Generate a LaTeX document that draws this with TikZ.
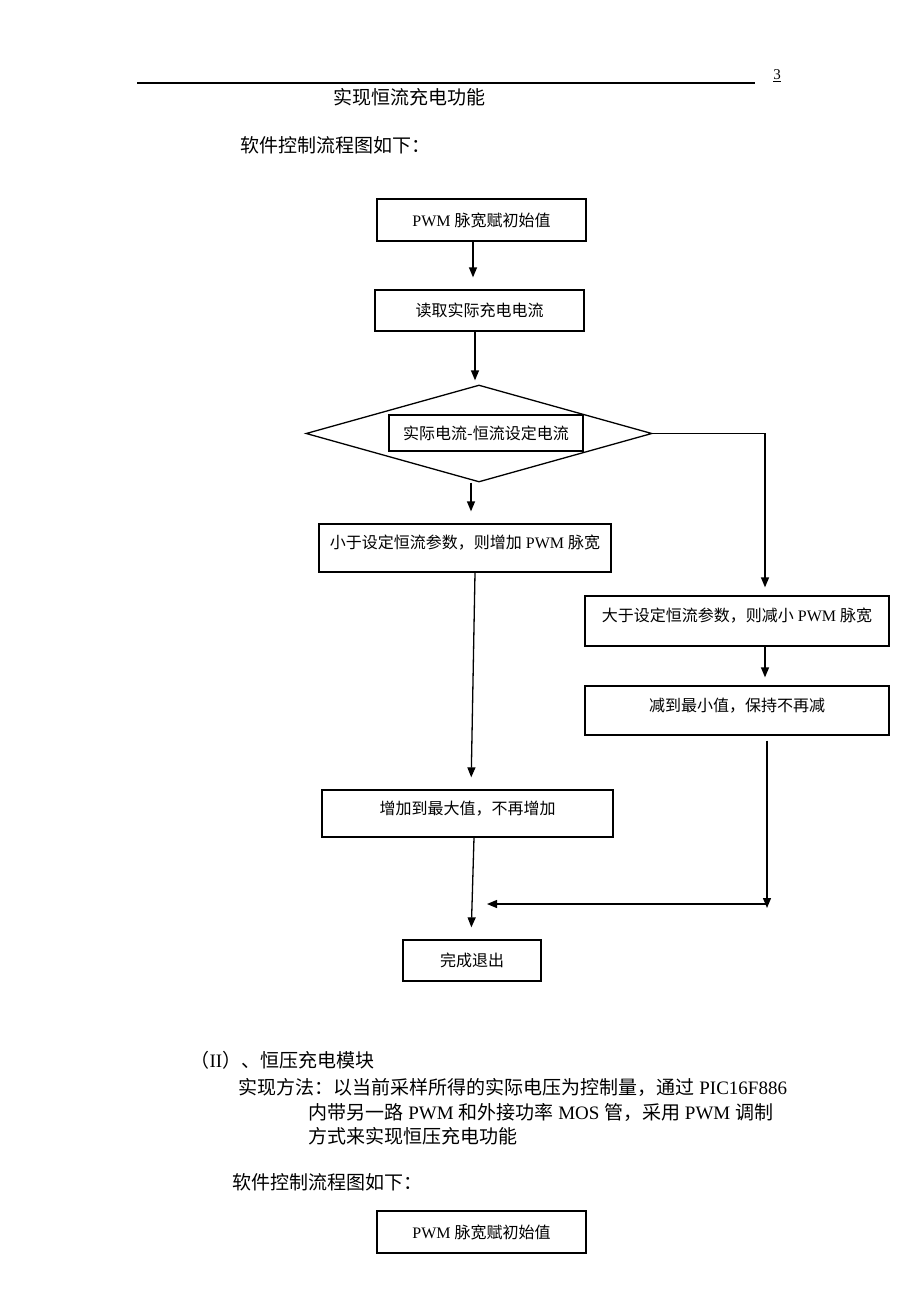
\documentclass[tikz,border=0pt]{standalone}
\usepackage{fontspec}
\setmainfont{Liberation Serif}
\newfontfamily\cjk{Noto Sans CJK SC}
\usetikzlibrary{shapes.geometric,arrows.meta}

\begin{document}
\begin{tikzpicture}[x=1pt,y=-1pt,line width=1.3pt,
    >={Triangle[length=10pt,width=8pt]},
    box/.style={draw,rectangle,inner sep=0pt,font=\fontsize{16pt}{19pt}\selectfont},
    upper/.style={text depth=12pt},
    txt/.style={anchor=west,inner sep=0pt,font=\fontsize{19pt}{23pt}\selectfont}]
    \useasboundingbox[fill=white] (0,0) rectangle (920,1302);

    % page head
    \draw (137,83) -- (755,83);
    \node[inner sep=0pt,font=\fontsize{15pt}{17pt}\selectfont] (pageno) at (777,76) {\underline{3}};
    \node[txt] (title) at (333,97) {\cjk 实现恒流充电功能};
    \node[txt] (intro) at (240,145) {\cjk 软件控制流程图如下：};

    % flow chart
    \node[box,minimum width=209pt,minimum height=42pt] (init) at (481.5,220) {PWM {\cjk 脉宽赋初始值}};
    \node[box,minimum width=209pt,minimum height=41pt] (read) at (479.5,310.5) {\cjk 读取实际充电电流};
    \node[draw,diamond,inner sep=0pt,minimum width=346pt,minimum height=97pt] (judge) at (479,433.5) {};
    \node[box,minimum width=194pt,minimum height=36pt] (diff) at (486,433) {\cjk 实际电流-恒流设定电流};
    \node[box,upper,minimum width=292pt,minimum height=48pt] (less) at (465,548) {{\cjk 小于设定恒流参数，则增加} PWM {\cjk 脉宽}};
    \node[box,upper,minimum width=304pt,minimum height=50pt] (more) at (737,621) {{\cjk 大于设定恒流参数，则减小} PWM {\cjk 脉宽}};
    \node[box,upper,minimum width=304pt,minimum height=49pt] (dmin) at (737,710.5) {\cjk 减到最小值，保持不再减};
    \node[box,upper,minimum width=291pt,minimum height=47pt] (dmax) at (467.5,813.5) {\cjk 增加到最大值，不再增加};
    \node[box,minimum width=138pt,minimum height=41pt] (done) at (472,960.5) {\cjk 完成退出};

    \draw[->,shorten >=12pt] ([xshift=-8.5pt]init.south) -- ([xshift=-6.5pt]read.north);
    \draw[->,shorten >=4pt] ([xshift=-4.5pt]read.south) -- ([xshift=-4pt]judge.north);
    \draw[->,shorten >=12pt] ([xshift=-8pt]judge.south) -- ([xshift=6pt]less.north);
    \draw[->,shorten >=8pt] (judge.east) -| ([xshift=28pt]more.north);
    \draw[->,shorten >=8pt] ([xshift=28pt]more.south) -- ([xshift=28pt]dmin.north);
    \draw[->,shorten >=12pt] ([xshift=10pt]less.south) -- ([xshift=3.5pt]dmax.north);
    \draw[->,shorten >=12pt] ([xshift=6.5pt]dmax.south) -- ([xshift=-1pt]done.north);
    \coordinate (corner) at (767,908);
    \coordinate (merge) at (487,904);
    \draw[->,shorten <=5pt] ([xshift=30pt]dmin.south) -- (corner);
    \draw[->] (corner |- merge) -- (merge);

    % section II
    \node[txt] (sec) at (190,1060) {{\cjk （}II{\cjk ）、恒压充电模块}};
    \node[txt] (way) at (238,1087) {{\cjk 实现方法：以当前采样所得的实际电压为控制量，通过} PIC16F886};
    \node[txt] (waytwo) at (308,1112) {{\cjk 内带另一路} PWM {\cjk 和外接功率} MOS {\cjk 管，采用} PWM {\cjk 调制}};
    \node[txt] (waythree) at (308,1136) {\cjk 方式来实现恒压充电功能};
    \node[txt] (introtwo) at (232,1182) {\cjk 软件控制流程图如下：};
    \node[box,minimum width=209pt,minimum height=42pt] (inittwo) at (481.5,1232) {PWM {\cjk 脉宽赋初始值}};
\end{tikzpicture}
\end{document}
